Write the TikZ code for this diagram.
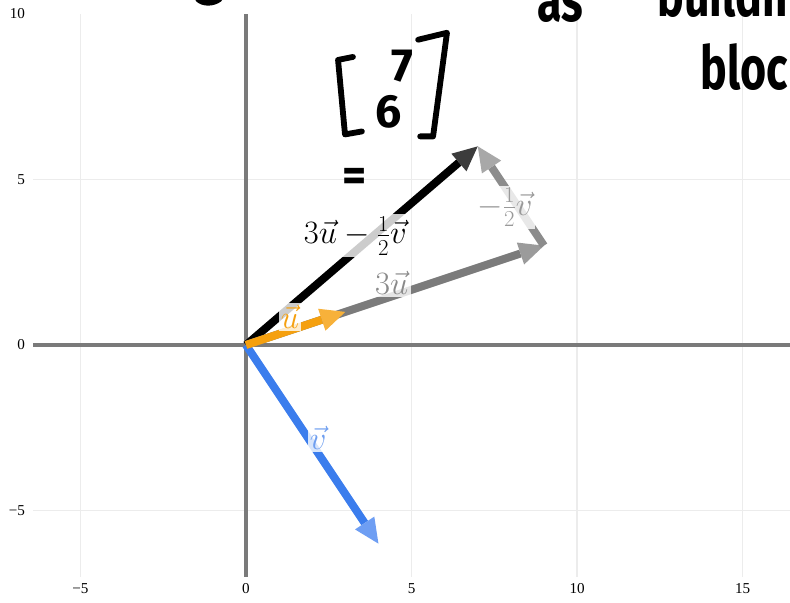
\RequirePackage{fix-cm}
\documentclass[tikz,border=0pt]{standalone}
\usepackage{fontspec}
\usepackage{amsmath}
\usetikzlibrary{arrows.meta}
\newfontfamily\handfont{Fira Sans}
\newfontfamily\tickfont{Liberation Serif}
\definecolor{gridgray}{HTML}{ECECEC}
\definecolor{axisgray}{HTML}{7A7A7A}
\definecolor{vblue}{HTML}{3B7DED}
\definecolor{vbluehead}{HTML}{6E9EF3}
\definecolor{vbluelbl}{HTML}{6F9FF0}
\definecolor{uorange}{HTML}{F5A00F}
\definecolor{uorangehead}{HTML}{F7B13A}
\definecolor{ugray}{HTML}{7B7B7B}
\definecolor{ugrayhead}{HTML}{9B9B9B}
\definecolor{ugraylbl}{HTML}{8A8A8A}
\definecolor{hgray}{HTML}{8C8C8C}
\definecolor{hgrayhead}{HTML}{A8A8A8}
\definecolor{hgraylbl}{HTML}{999999}
\definecolor{reshead}{HTML}{3C3C3C}
\newcommand{\handw}[1]{\scalebox{0.74}[1]{#1}}

\begin{document}
\begin{tikzpicture}[
    gridline/.style={draw=gridgray, line width=1.2pt},
    axisline/.style={draw=axisgray, line width=2.6pt},
    vec/.style={line width=6.8pt},
    vechead/.style={-{Triangle[length=0.75cm, width=0.7cm, fill=#1, line width=0pt]}},
    ticklbl/.style={font=\tickfont\fontsize{13}{15}\selectfont},
    veclbl/.style={fill=white, fill opacity=0.8, text opacity=1, inner sep=2pt,
      font=\fontsize{28}{32}\selectfont},
    hand/.style={font=\handfont\bfseries\fontsize{52}{54}\selectfont, inner sep=0pt},
    digit/.style={font=\handfont\bfseries\fontsize{40}{42}\selectfont, inner sep=0pt},
    handline/.style={line width=5pt, line cap=round, line join=round}]
  \useasboundingbox (-7.43,-7.77) rectangle (16.43,10.42);
  \clip (-7.43,-7.77) rectangle (16.43,10.42);
  % grid and axes
  \foreach \x in {-5,5,10,15}
    \draw[gridline] (\x,-7) -- (\x,10);
  \foreach \y in {-5,5}
    \draw[gridline] (-6.43,\y) -- (16.43,\y);
  \draw[axisline] (-6.43,0) -- (16.43,0);
  \draw[axisline] (0,-7) -- (0,10);
  \foreach \x/\lab in {-5/−5, 0/0, 5/5, 10/10, 15/15}
    \node[ticklbl] (xt\x) at (\x,-7.35) {\lab};
  \foreach \y/\lab in {-5/−5, 0/0, 5/5, 10/10}
    \node[ticklbl, anchor=east] (yt\y) at (-6.55,\y) {\lab};
  % vectors
  \coordinate (O) at (0,0);
  \coordinate (U) at (3,1);
  \coordinate (U3) at (9,3);
  \coordinate (R) at (7,6);
  \coordinate (V) at (4,-6);
  \draw[vec, vblue, vechead=vbluehead] (O) -- (V);
  \draw[vec, black, vechead=reshead] (O) -- (R);
  \draw[vec, ugray, vechead=ugrayhead] (O) -- (U3);
  \draw[vec, hgray, vechead=hgrayhead] (U3) -- (R);
  \draw[vec, uorange, vechead=uorangehead] (O) -- (U);
  \node[veclbl, text=black] (lres) at (3.3,3.3) {$3\vec{u}-\frac{1}{2}\vec{v}$};
  \node[veclbl, text=ugraylbl] (l3u) at (4.4,1.87) {$3\vec{u}$};
  \node[veclbl, text=hgraylbl] (lhalf) at (7.82,4.16) {$-\frac{1}{2}\vec{v}$};
  \node[veclbl, text=uorange] (lu) at (1.33,0.84) {$\vec{u}$};
  \node[veclbl, text=vbluelbl] (lv) at (2.18,-2.8) {$\vec{v}$};
  % handwritten notes
  \draw[handline] (3.23,8.70) -- (2.78,8.61) -- (2.99,6.36) -- (3.50,6.45);
  \draw[handline] (5.20,9.22) -- (6.07,9.43) -- (5.65,6.30) -- (5.26,6.30);
  \node[digit] (hseven) at (4.71,8.43) {7};
  \node[digit] (hsix) at (4.32,7.05) {6};
  \node[digit] (heq) at (3.29,5.0) {=};
  \node[hand, anchor=base west] (has) at (8.79,9.76) {\handw{as}};
  \node[hand, anchor=base west] (hbuild) at (12.42,9.91) {\handw{building}};
  \node[hand, anchor=base west] (hbloc) at (13.72,7.71) {\handw{bloc}};
  \draw[handline] (-1.45,10.45) .. controls (-1.3,10.3) and (-1.0,10.3) .. (-0.8,10.45);
\end{tikzpicture}
\end{document}
